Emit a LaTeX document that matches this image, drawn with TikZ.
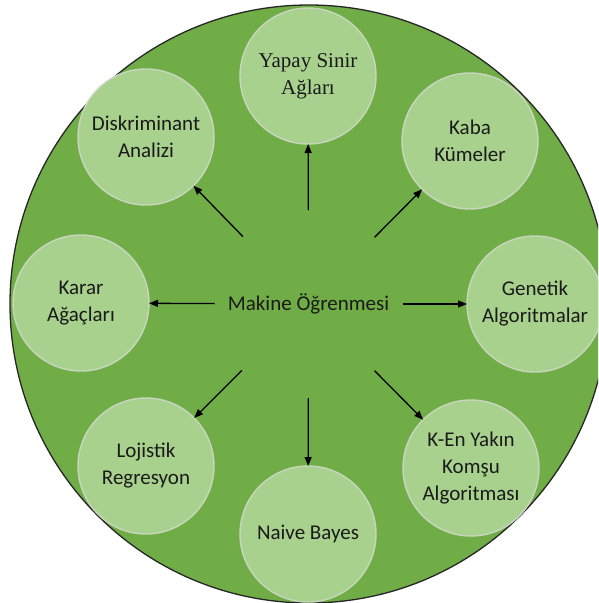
\documentclass[tikz,border=0pt]{standalone}
\usepackage{fontspec}
\setmainfont{Carlito}
\newfontfamily\serifface{Liberation Serif}
\usetikzlibrary{arrows.meta}

\definecolor{outergreen}{HTML}{70AD47}
\definecolor{innergreen}{HTML}{A9D18E}
\definecolor{innerrim}{HTML}{C9D6BF}
\definecolor{labelink}{HTML}{1A1A1A}

\tikzset{
  topic/.style={circle, fill=innergreen, draw=innerrim, line width=1.4pt,
    minimum size=136pt, inner sep=0pt, outer sep=0pt, align=center,
    text=labelink, font=\fontsize{21}{27}\selectfont},
  hub/.style={text=labelink, font=\fontsize{21}{27}\selectfont, inner sep=0pt},
  link/.style={line width=1.3pt, draw=black,
    -{Triangle[length=9pt,width=7pt]}, shorten <=94pt}
}

\begin{document}
\begin{tikzpicture}[x=1pt, y=-1pt]
  \useasboundingbox (0,0) rectangle (598,603);
  \clip (0,0) rectangle (598,603);

  % outer disc
  \fill[outergreen] (309,304) circle[radius=299pt];
  \draw[black!85, line width=1.3pt] (309,304) circle[radius=299pt];

  % centre label
  \coordinate (c) at (308.5,304);
  \node[hub] (ml) at (c) {Makine Öğrenmesi};

  % surrounding topics
  \node[topic, font=\serifface\fontsize{21}{27}\selectfont] (ysa) at (308,76) {Yapay Sinir\\Ağları};
  \node[topic] (da)  at (146,137) {Diskriminant\\Analizi};
  \node[topic] (kk)  at (470,141) {Kaba\\Kümeler};
  \node[topic] (ka)  at (81,303)  {Karar\\Ağaçları};
  \node[topic] (ga)  at (535,304) {Genetik\\Algoritmalar};
  \node[topic] (knn) at (471,468) {K-En Yakın\\Komşu\\Algoritması};
  \node[topic] (nb)  at (308,534) {Naive Bayes};
  \node[topic] (lr)  at (146,466) {Lojistik\\Regresyon};

  % arrows from the centre outward
  \foreach \t in {ysa,da,kk,ka,ga,knn,nb,lr}
    \draw[link] (c) -- (\t);
\end{tikzpicture}
\end{document}
